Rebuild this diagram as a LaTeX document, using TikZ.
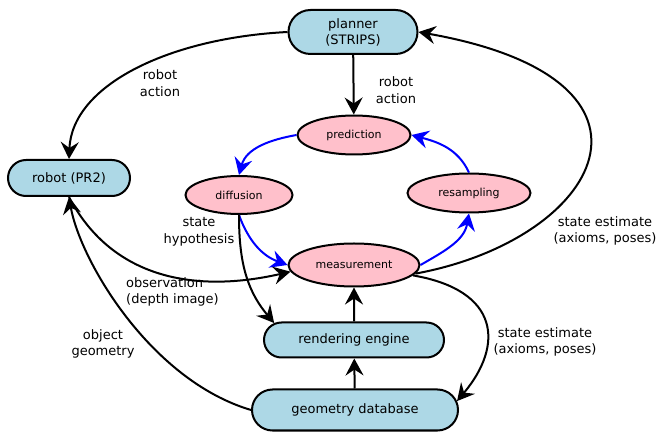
\documentclass[tikz,border=0pt]{standalone}
\usepackage{fontspec}
\setmainfont{DejaVu Sans}
\usetikzlibrary{shapes.geometric,shapes.misc,arrows.meta}
\definecolor{boxblue}{RGB}{173,216,230}
\definecolor{ovalpink}{RGB}{255,192,203}
\tikzset{
    box/.style={rounded rectangle, draw, line width=2pt, fill=boxblue, inner sep=0pt, align=center, font=\fontsize{13}{16}\selectfont},
    oval/.style={ellipse, draw, line width=2pt, fill=ovalpink, inner sep=0pt, font=\fontsize{11}{13}\selectfont},
    note/.style={inner sep=0pt, align=center, font=\fontsize{13}{16.5}\selectfont},
    flow/.style={-{Stealth[length=17pt,width=18pt,inset=6pt]}, line width=2pt},
    filterflow/.style={flow, blue}
}
\begin{document}
\begin{tikzpicture}[x=1pt,y=-1pt]
    \useasboundingbox (0,0) rectangle (656,435);

    \node[box, minimum width=129pt, minimum height=44pt] (planner) at (353,32) {planner\\(STRIPS)};
    \node[box, minimum width=122pt, minimum height=36pt] (robot) at (69,178) {robot (PR2)};
    \node[oval, minimum width=113pt, minimum height=39pt] (prediction) at (354,135) {prediction};
    \node[oval, minimum width=107pt, minimum height=38pt] (diffusion) at (239,195) {diffusion};
    \node[oval, minimum width=123pt, minimum height=39pt] (resampling) at (469,193) {resampling};
    \node[oval, minimum width=131pt, minimum height=43pt] (measurement) at (354,265) {measurement};
    \node[box, minimum width=180pt, minimum height=35pt] (rendering) at (354,340) {rendering engine};
    \node[box, minimum width=206pt, minimum height=41pt] (geometry) at (355,410) {geometry database};

    \draw[flow] (planner.west) .. controls +(-118,6) and +(3,-74) .. (robot.north);
    \draw[flow] (planner) -- (prediction);
    \draw[filterflow] (prediction.west) to[out=190,in=75] (diffusion.north);
    \draw[filterflow] (diffusion.south) to[out=-70,in=160] (measurement.west);
    \draw[filterflow] (measurement.east) to[out=30,in=-100] (resampling.south);
    \draw[filterflow] (resampling.north) to[out=115,in=-15] (prediction.east);
    \draw[flow] (measurement.-8) .. controls +(185,-34) and +(271,48) .. (planner.east);
    \draw[flow] (measurement.-10) .. controls +(87,15) and +(47,-56) .. (geometry.5);
    \draw[flow] (diffusion.south) to[out=-90,in=130] (rendering.168);
    \draw[flow] (geometry) -- (rendering);
    \draw[flow] (rendering) -- (measurement);
    \draw[flow] (robot.south) .. controls +(41,78) and +(-101,23) .. (measurement.186);
    \draw[flow] (geometry.west) .. controls +(-101,-30) and +(11,63) .. (robot.south);

    \node[note] (actionleft) at (160,83) {robot\\action};
    \node[note] (actionright) at (396,90) {robot\\action};
    \node[note] (hypothesis) at (199,232) {state\\hypothesis};
    \node[note, align=left, anchor=west] (observation) at (126,292) {observation\\(depth image)};
    \node[note] (objgeometry) at (103,344) {object\\geometry};
    \node[note] (estimateup) at (605,231) {state estimate\\(axioms, poses)};
    \node[note] (estimatelow) at (545,342) {state estimate\\(axioms, poses)};
\end{tikzpicture}
\end{document}
